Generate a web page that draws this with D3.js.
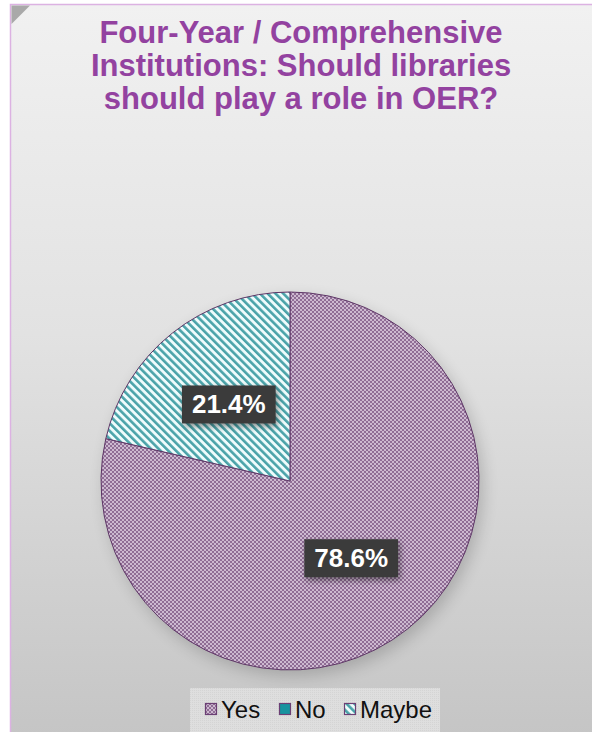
<!DOCTYPE html>
<html>
<head>
<meta charset="utf-8">
<script src="https://cdn.jsdelivr.net/npm/d3@7/dist/d3.min.js"></script>
<style>
  html, body { margin: 0; padding: 0; background: #ffffff; }
  svg { display: block; }
</style>
</head>
<body>
<script>
// Survey answers: share of four-year / comprehensive institutions
const categories = ["Yes", "No", "Maybe"];
const shares = [78.6, 0, 21.4];
const labels = ["78.6%", "", "21.4%"];
const titleLines = [
  "Four-Year / Comprehensive",
  "Institutions: Should libraries",
  "should play a role in OER?"
];

const W = 592, H = 732;
const svg = d3.select("body").append("svg")
  .attr("width", W).attr("height", H)
  .style("font-family", "Arial, 'Liberation Sans', Helvetica, sans-serif");

const defs = svg.append("defs");

// panel background
const bg = defs.append("linearGradient").attr("id", "bgGrad")
  .attr("x1", 0).attr("y1", 0).attr("x2", 0).attr("y2", 1);
bg.append("stop").attr("offset", "0%").attr("stop-color", "#f1f1f1");
bg.append("stop").attr("offset", "45%").attr("stop-color", "#e2e2e2");
bg.append("stop").attr("offset", "100%").attr("stop-color", "#c5c5c5");

// fill patterns for the slices
const pYes = defs.append("pattern").attr("id", "patYes")
  .attr("patternUnits", "userSpaceOnUse").attr("width", 4).attr("height", 4);
pYes.append("rect").attr("width", 4).attr("height", 4).attr("fill", "#cdb9d0");
pYes.append("rect").attr("width", 2).attr("height", 2).attr("fill", "#8f6d95");
pYes.append("rect").attr("x", 2).attr("y", 2).attr("width", 2).attr("height", 2).attr("fill", "#8f6d95");

const pNo = defs.append("pattern").attr("id", "patNo")
  .attr("patternUnits", "userSpaceOnUse").attr("width", 4).attr("height", 4);
pNo.append("rect").attr("width", 4).attr("height", 4).attr("fill", "#17939f");

const pMaybe = defs.append("pattern").attr("id", "patMaybe")
  .attr("patternUnits", "userSpaceOnUse").attr("width", 5.5).attr("height", 5.5)
  .attr("patternTransform", "rotate(-45)");
pMaybe.append("rect").attr("width", 5.5).attr("height", 5.5).attr("fill", "#effcfc");
pMaybe.append("rect").attr("width", 2.6).attr("height", 5.5).attr("fill", "#4aa3a9");

const pLegendBg = defs.append("pattern").attr("id", "patLeg")
  .attr("patternUnits", "userSpaceOnUse").attr("width", 2).attr("height", 2);
pLegendBg.append("rect").attr("width", 2).attr("height", 2).attr("fill", "#dedede");
pLegendBg.append("rect").attr("width", 1).attr("height", 1).attr("fill", "#d4d4d4");

// soft shadow for label boxes
const sh = defs.append("filter").attr("id", "boxShadow")
  .attr("x", "-30%").attr("y", "-40%").attr("width", "160%").attr("height", "180%");
sh.append("feGaussianBlur").attr("in", "SourceAlpha").attr("stdDeviation", 3).attr("result", "b");
sh.append("feOffset").attr("in", "b").attr("dx", 2).attr("dy", 3).attr("result", "o");
sh.append("feComponentTransfer").attr("in", "o").attr("result", "s")
  .append("feFuncA").attr("type", "linear").attr("slope", 0.45);
const mg = sh.append("feMerge");
mg.append("feMergeNode").attr("in", "s");
mg.append("feMergeNode").attr("in", "SourceGraphic");

const pieShadow = defs.append("filter").attr("id", "pieShadow")
  .attr("x", "-20%").attr("y", "-20%").attr("width", "140%").attr("height", "140%");
pieShadow.append("feGaussianBlur").attr("stdDeviation", 8);

// panel
svg.append("rect").attr("x", 10.5).attr("y", 4.5)
  .attr("width", W).attr("height", H)
  .attr("fill", "url(#bgGrad)").attr("stroke", "#dcb2e2").attr("stroke-width", 1.5);
svg.append("path").attr("d", "M11.5,5.5 L30,5.5 L11.5,24 Z").attr("fill", "#a9a9a9");

// title
const title = svg.append("text")
  .attr("text-anchor", "middle")
  .attr("fill", "#9342a0")
  .style("font-weight", "bold")
  .style("font-size", "31px");
titleLines.forEach((t, i) => {
  title.append("tspan").attr("x", 301).attr("y", 43 + i * 33).text(t);
});

// pie
const cx = 290, cy = 481, R = 189;
const colorFill = d3.scaleOrdinal().domain(categories)
  .range(["url(#patYes)", "url(#patNo)", "url(#patMaybe)"]);

const pie = d3.pie().sort(null).value(d => d.value);
const data = categories.map((c, i) => ({ name: c, value: shares[i], label: labels[i] }));
const arcs = pie(data);
const arc = d3.arc().innerRadius(0).outerRadius(R);
const labelArc = d3.arc().innerRadius(R * 0.52).outerRadius(R * 0.52);

const g = svg.append("g").attr("transform", `translate(${cx},${cy})`);

g.append("circle").attr("cx", 4).attr("cy", 6).attr("r", R)
  .attr("fill", "#000").attr("opacity", 0.18).attr("filter", "url(#pieShadow)");

g.selectAll("path.slice").data(arcs.filter(a => a.data.value > 0))
  .join("path")
  .attr("class", "slice")
  .attr("d", arc)
  .attr("fill", d => colorFill(d.data.name))
  .attr("stroke", "#5e3666")
  .attr("stroke-width", 1);

// value labels in dark boxes
const lab = g.selectAll("g.lab").data(arcs.filter(a => a.data.value > 0))
  .join("g").attr("class", "lab")
  .attr("transform", d => {
    const [x, y] = labelArc.centroid(d);
    return `translate(${x},${y})`;
  });
lab.each(function (d) {
  const sel = d3.select(this);
  const t = sel.append("text")
    .attr("text-anchor", "middle")
    .attr("dy", "0.36em")
    .attr("fill", "#ffffff")
    .style("font-weight", "bold")
    .style("font-size", "26px")
    .text(d.data.label);
  const bb = t.node().getBBox();
  sel.insert("rect", "text")
    .attr("x", bb.x - 10).attr("y", bb.y - 4)
    .attr("width", bb.width + 20).attr("height", bb.height + 8)
    .attr("fill", "#3b3b3b")
    .attr("filter", "url(#boxShadow)");
});

// legend
svg.append("rect").attr("x", 190).attr("y", 688).attr("width", 250).attr("height", 44)
  .attr("fill", "url(#patLeg)");
const legX = [205, 279, 344];
const leg = svg.append("g").selectAll("g").data(categories).join("g")
  .attr("transform", (d, i) => `translate(${legX[i]},703)`);
leg.append("rect").attr("x", 0.5).attr("y", 0.5).attr("width", 11).attr("height", 11)
  .attr("fill", d => colorFill(d))
  .attr("stroke", "#6b3f74").attr("stroke-width", 1.2);
leg.append("text").attr("x", 16).attr("y", 15)
  .attr("fill", "#111")
  .style("font-size", "24px")
  .text(d => d);
</script>
</body>
</html>
